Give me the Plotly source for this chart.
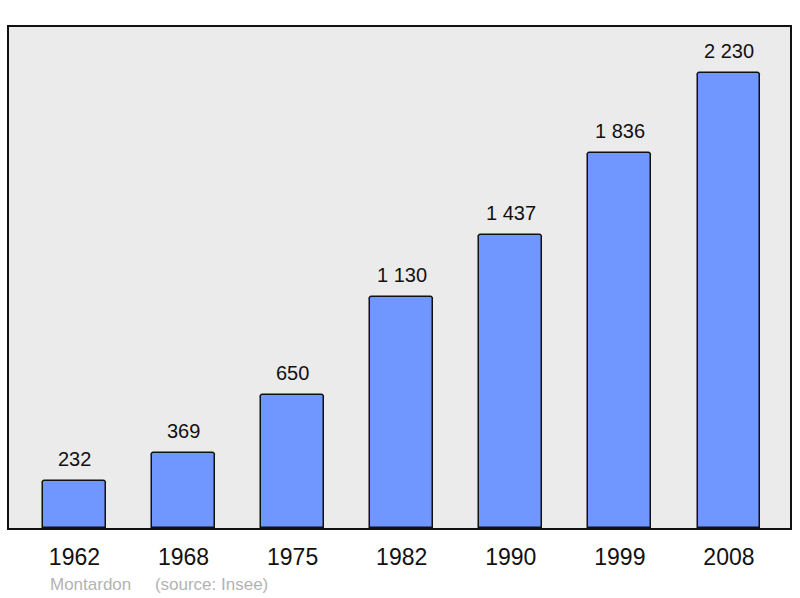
import plotly.graph_objects as go

years = ["1962", "1968", "1975", "1982", "1990", "1999", "2008"]
population = [232, 369, 650, 1130, 1437, 1836, 2230]
value_labels = ["232", "369", "650", "1 130", "1 437", "1 836", "2 230"]
town = "Montardon"
source = "(source: Insee)"

FONT = "Liberation Sans, Arial, sans-serif"

fig = go.Figure()
fig.add_trace(go.Bar(
    x=list(range(len(years))),
    y=population,
    width=0.576,
    marker=dict(color="#7096ff", line=dict(color="#111111", width=1.5), cornerradius=3),
    hoverinfo="skip",
))

for i, (v, lab) in enumerate(zip(population, value_labels)):
    fig.add_annotation(x=i, y=v, text=lab, showarrow=False, yanchor="bottom",
                       yshift=9, font=dict(family=FONT, size=20, color="#111111"))

fig.add_annotation(xref="paper", yref="paper", x=0.05, y=-0.09, xanchor="left", yanchor="top",
                   text=town + "&nbsp;&nbsp;&nbsp;&nbsp;&nbsp;" + source,
                   showarrow=False, font=dict(family=FONT, size=17, color="#b3b3b3"))

fig.update_layout(
    width=800, height=598,
    margin=dict(l=9, r=8, t=27, b=70),
    paper_bgcolor="white",
    plot_bgcolor="#ebebeb",
    showlegend=False,
    bargap=0,
    xaxis=dict(
        range=[-0.6, 6.56],
        tickmode="array",
        tickvals=list(range(len(years))),
        ticktext=years,
        tickfont=dict(family=FONT, size=23, color="#111111"),
        ticks="", ticklabelstandoff=7,
        showgrid=False, zeroline=False,
        showline=True, linecolor="#111111", linewidth=2, mirror=True,
    ),
    yaxis=dict(
        range=[0, 2455],
        showticklabels=False, ticks="",
        showgrid=False, zeroline=False,
        showline=True, linecolor="#111111", linewidth=2, mirror=True,
    ),
)

fig.write_html("out.html", config={"displayModeBar": False},
               post_script="document.body.style.margin='0';document.body.style.overflow='hidden';")
